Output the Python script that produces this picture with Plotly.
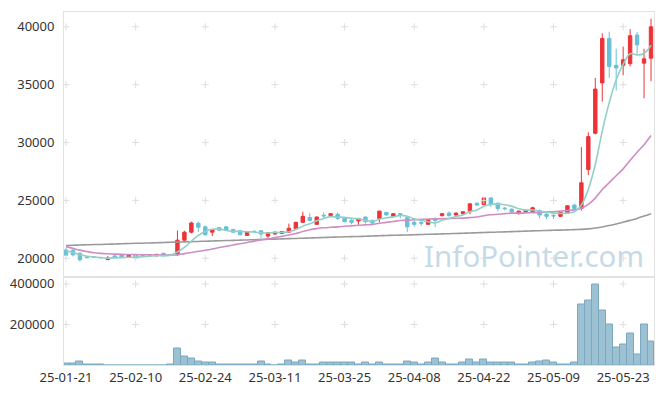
import plotly.graph_objects as go
import pandas as pd

dates = ["25-01-21","25-01-22","25-01-23","25-01-24","25-01-31","25-02-03","25-02-04","25-02-05","25-02-06","25-02-07",
         "25-02-10","25-02-11","25-02-12","25-02-13","25-02-14","25-02-17","25-02-18","25-02-19","25-02-20","25-02-21",
         "25-02-24","25-02-25","25-02-26","25-02-27","25-02-28","25-03-04","25-03-05","25-03-06","25-03-07","25-03-10",
         "25-03-11","25-03-12","25-03-13","25-03-14","25-03-17","25-03-18","25-03-19","25-03-20","25-03-21","25-03-24",
         "25-03-25","25-03-26","25-03-27","25-03-28","25-03-31","25-04-01","25-04-02","25-04-03","25-04-04","25-04-07",
         "25-04-08","25-04-09","25-04-10","25-04-11","25-04-14","25-04-15","25-04-16","25-04-17","25-04-18","25-04-21",
         "25-04-22","25-04-23","25-04-24","25-04-25","25-04-28","25-04-29","25-04-30","25-05-02","25-05-07","25-05-08",
         "25-05-09","25-05-12","25-05-13","25-05-14","25-05-15","25-05-16","25-05-19","25-05-20","25-05-21","25-05-22",
         "25-05-23","25-05-26","25-05-27","25-05-28","25-05-29"]

opens = [20710,20700,20430,20080,20100,20060,19880,20200,20320,20090,
         20320,20270,20260,20200,20430,20280,20310,21560,22250,23020,
         22710,22250,22650,22710,22480,22370,21970,22330,22370,21910,
         22090,22140,22250,22540,23100,23520,22930,23720,23680,23790,
         23500,23270,23220,23560,23270,23440,23960,23620,23850,23500,
         23100,23080,22930,23440,23680,23900,23730,23850,24020,24760,
         24640,25210,24760,24330,24240,23850,24020,24020,24130,23790,
         23700,23620,23900,24590,24300,27670,30800,35150,39000,36670,
         36670,36810,39290,36860,37290]
highs = [20910,20750,20500,20150,20160,20120,20200,20260,20350,20300,
         20350,20330,20300,20360,20460,20320,22390,22370,23160,23160,
         22820,22520,22700,22760,22560,22420,22350,22400,22420,22250,
         22300,22360,22990,23150,24020,23900,23600,23960,23900,23960,
         23560,23380,23480,23600,23330,24100,24000,23900,23880,23560,
         23330,23270,23350,23500,23900,24050,23960,24050,24750,24820,
         25260,25260,24800,24420,24300,24100,24200,24450,24200,23960,
         23900,24070,24590,24700,29600,30880,35580,39430,39570,38100,
         38290,39800,39550,38100,40710]
lows = [20200,20150,19720,19990,20030,19990,19850,19990,20050,20060,
        20000,20200,20220,20180,20180,20260,20200,21500,22140,22250,
        21950,21910,22380,22400,22200,21980,21950,22230,21700,21680,
        22030,22080,22200,22480,23050,23200,22880,23500,23560,23300,
        23100,22930,22900,22990,22990,23100,23680,23560,23450,22250,
        22710,22800,22880,22700,23600,23600,23600,23780,23800,24530,
        24590,24420,24050,24130,23850,23780,23960,23960,23450,23400,
        23400,23560,23850,24250,24130,27180,30700,33530,35580,34500,
        35810,36580,37630,33820,35300]
closes = [20260,20300,19860,20050,20090,20040,20010,20030,20090,20260,
          20030,20250,20260,20340,20200,20300,21560,22250,23050,22680,
          22030,22480,22420,22420,22250,22030,22310,22300,22090,22200,
          22250,22310,22590,23100,23620,23270,23560,23660,23850,23440,
          23160,23100,23440,23160,23050,24070,23740,23850,23790,22710,
          22930,23030,23330,23270,23850,23680,23900,24020,24700,24590,
          25210,24700,24300,24280,24020,24070,24130,24360,23730,23620,
          23660,23960,24530,24300,26520,30510,34620,39000,36580,36440,
          37150,39230,38440,37230,40000]
volumes = [5000,5000,19500,4000,4000,4000,0,0,0,0,
           0,0,0,0,0,4000,83000,44000,34000,19500,
           10000,10000,4000,4000,4000,4000,4000,4000,19500,4000,
           0,4000,24000,10000,24000,4000,4000,14000,10000,14000,
           10000,10000,4000,10000,4000,10000,3000,3000,3000,19500,
           10000,4000,10000,34000,10000,4000,4000,14000,29000,10000,
           29000,14000,10000,10000,14000,4000,4000,10000,19500,24000,
           14000,4000,4000,10000,297000,317000,395000,268000,200000,88000,
           102000,156000,54000,200000,117000]
# moving-average warm-up values (history before the first shown day)
ma5_head = [20650,20500,20300,20170]
ma20_head = [21000,20850,20700,20580,20480,20420,20380,20350,20330,20320,
             20310,20300,20290,20280,20270,20270,20300,20400,20500]
ma_long = [21100,21120,21140,21160,21180,21190,21210,21230,21250,21270,
           21290,21300,21320,21340,21360,21380,21400,21410,21430,21450,
           21470,21490,21510,21530,21540,21560,21580,21600,21620,21640,
           21650,21670,21690,21710,21730,21750,21770,21790,21810,21830,
           21850,21870,21880,21900,21920,21940,21960,21980,22000,22010,
           22030,22050,22070,22080,22100,22120,22140,22160,22180,22200,
           22220,22240,22260,22280,22300,22320,22340,22360,22380,22400,
           22420,22430,22450,22470,22490,22540,22610,22700,22820,22960,
           23110,23270,23440,23640,23850]

price_ticks = [20000, 25000, 30000, 35000, 40000]
vol_ticks = [200000, 400000]
tick_dates = dates[::10]

c = pd.Series(closes, dtype=float)
ma5 = c.rolling(5).mean().tolist()
ma5[:4] = ma5_head
ma20 = c.rolling(20).mean().tolist()
ma20[:19] = ma20_head

RED = "#ee3338"
BLUE = "#68bfd8"
GRID = "#dedede"
LINE = "#e2e2e2"

fig = go.Figure()

# grid crosses
fig.add_trace(go.Scatter(
    x=[d for d in tick_dates for _ in price_ticks],
    y=[p for _ in tick_dates for p in price_ticks],
    mode="markers", xaxis="x", yaxis="y", hoverinfo="skip",
    marker=dict(symbol="cross-thin", size=5, line=dict(color=GRID, width=1))))
fig.add_trace(go.Scatter(
    x=[d for d in tick_dates for _ in vol_ticks],
    y=[p for _ in tick_dates for p in vol_ticks],
    mode="markers", xaxis="x2", yaxis="y2", hoverinfo="skip",
    marker=dict(symbol="cross-thin", size=5, line=dict(color=GRID, width=1))))

fig.add_trace(go.Scatter(x=dates, y=ma_long, mode="lines", xaxis="x", yaxis="y",
                         line=dict(color="#9a9a9a", width=1.6, shape="spline")))
fig.add_trace(go.Scatter(x=dates, y=ma20, mode="lines", xaxis="x", yaxis="y",
                         line=dict(color="#cf8dc6", width=1.6, shape="spline")))
fig.add_trace(go.Scatter(x=dates, y=ma5, mode="lines", xaxis="x", yaxis="y",
                         line=dict(color="#92d0c6", width=1.6, shape="spline")))

fig.add_trace(go.Candlestick(
    x=dates, open=opens, high=highs, low=lows, close=closes, xaxis="x", yaxis="y",
    increasing=dict(line=dict(color=RED, width=1), fillcolor=RED),
    decreasing=dict(line=dict(color=BLUE, width=1), fillcolor=BLUE),
    whiskerwidth=0))

fig.add_trace(go.Bar(x=dates, y=volumes, xaxis="x2", yaxis="y2",
                     marker=dict(color="#9cc1d2", line=dict(color="#7ba8bf", width=1))))

split = 89.5 / 357
xrange = [-0.29, 84.43]
fig.update_layout(
    width=665, height=396,
    margin=dict(l=62, r=10, t=10, b=29),
    paper_bgcolor="white", plot_bgcolor="white",
    showlegend=False, bargap=0,
    font=dict(family="Noto Sans", size=13, color="#333333"),
    xaxis=dict(domain=[0, 1], anchor="y", type="category", categoryorder="array", categoryarray=dates,
               range=xrange, showticklabels=False, showgrid=False, zeroline=False,
               showline=True, mirror=True, linecolor=LINE, rangeslider=dict(visible=False), matches="x2"),
    xaxis2=dict(domain=[0, 1], anchor="y2", type="category", categoryorder="array", categoryarray=dates,
                range=xrange, tickmode="array", tickvals=tick_dates, ticktext=tick_dates,
                showgrid=False, zeroline=False, showline=True, mirror=True, linecolor=LINE, ticks=""),
    yaxis=dict(domain=[split, 1], anchor="x", range=[18420, 41280], tickvals=price_ticks,
               tickformat="d", showgrid=False, zeroline=False, showline=True, mirror=True, linecolor=LINE,
               ticks="", ticklabelstandoff=6),
    yaxis2=dict(domain=[0, split], anchor="x2", range=[0, 436600], tickvals=vol_ticks,
                tickformat="d", showgrid=False, zeroline=False, showline=True, mirror=True, linecolor=LINE,
                ticks="", ticklabelstandoff=6),
    annotations=[dict(text="InfoPointer.com", xref="paper", yref="paper", x=0.9865, y=(367 - 256) / 357,
                      xanchor="right", yanchor="middle", showarrow=False,
                      font=dict(family="Noto Sans", size=29.5, color="#c6dae6"))],
)

fig.write_html("out.html", config={"displayModeBar": False},
               post_script="document.body.style.margin='0px';")
